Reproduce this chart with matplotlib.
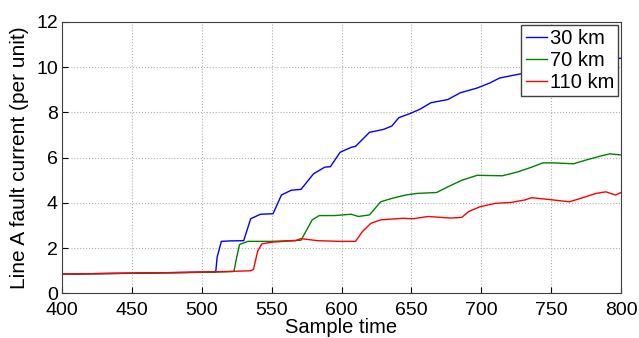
import matplotlib.pyplot as plt

plt.rcParams['font.family'] = ['Liberation Sans', 'DejaVu Sans']

# values
t_30 = [400, 430, 460, 490, 510, 511, 514, 520, 530, 535, 542, 551, 557, 564, 571,
        580, 588, 592, 599, 607, 610, 620, 630, 636, 641, 649, 656, 664, 676, 685,
        697, 706, 713, 725, 740, 750, 765, 775, 790, 800]
i_30 = [0.85, 0.88, 0.9, 0.93, 0.95, 1.6, 2.3, 2.32, 2.33, 3.3, 3.5, 3.52, 4.35, 4.56, 4.6,
        5.29, 5.58, 5.6, 6.24, 6.46, 6.5, 7.12, 7.25, 7.4, 7.77, 7.95, 8.14, 8.43, 8.57, 8.87,
        9.08, 9.3, 9.52, 9.67, 9.85, 9.95, 10.1, 10.2, 10.3, 10.4]

t_70 = [400, 430, 460, 490, 515, 523, 525, 527, 533, 550, 571, 575, 579, 584, 595,
        607, 612, 620, 628, 636, 646, 654, 668, 676, 686, 697, 715, 726, 736, 744,
        752, 766, 774, 787, 792, 800]
i_70 = [0.85, 0.87, 0.9, 0.92, 0.95, 0.97, 1.6, 2.16, 2.3, 2.3, 2.35, 2.8, 3.25, 3.44, 3.44,
        3.5, 3.4, 3.47, 4.05, 4.2, 4.35, 4.42, 4.46, 4.71, 5.0, 5.22, 5.2, 5.37, 5.58, 5.77,
        5.77, 5.73, 5.88, 6.1, 6.17, 6.12]

t_110 = [400, 430, 460, 490, 520, 535, 537, 540, 543, 551, 567, 571, 583, 599, 610,
         615, 621, 628, 644, 651, 662, 678, 686, 691, 699, 710, 721, 731, 736, 750,
         763, 771, 782, 789, 796, 800]
i_110 = [0.85, 0.88, 0.9, 0.93, 0.97, 1.0, 1.06, 1.87, 2.19, 2.27, 2.33, 2.42, 2.33, 2.3, 2.3,
         2.74, 3.1, 3.25, 3.32, 3.3, 3.4, 3.33, 3.36, 3.62, 3.83, 3.98, 4.02, 4.13, 4.23, 4.14,
         4.05, 4.2, 4.42, 4.49, 4.35, 4.46]

fig = plt.figure(figsize=(6.39, 3.38), dpi=100)
ax = fig.add_axes([0.097, 0.132, 0.875, 0.803])

ax.plot(t_30, i_30, color='#0000ff', lw=1, label='30 km')
ax.plot(t_70, i_70, color='#008000', lw=1, label='70 km')
ax.plot(t_110, i_110, color='#ff0000', lw=1, label='110 km')

ax.set_xlim(400, 800)
ax.set_ylim(0, 12)
ax.set_xticks(range(400, 801, 50))
ax.set_yticks(range(0, 13, 2))
ax.grid(True, color='#b0b0b0', linestyle=':', linewidth=0.8)
ax.tick_params(direction='in', labelsize=14, length=4)
ax.tick_params(axis='x', pad=6.5)
ax.tick_params(axis='y', pad=3)
for s in ax.spines.values():
    s.set_color('#404040')

ax.set_xlabel('Sample time', fontsize=14.5, labelpad=-1)
ax.set_ylabel('Line A fault current (per unit)', fontsize=15, labelpad=5)

leg = ax.legend(loc='upper right', fontsize=14.5, handlelength=1.05, handletextpad=0.15,
                borderaxespad=0.15, fancybox=False, framealpha=1, borderpad=0.2,
                labelspacing=0.15)
leg.get_frame().set_edgecolor('#404040')

fig.savefig('out.png', dpi=100)
